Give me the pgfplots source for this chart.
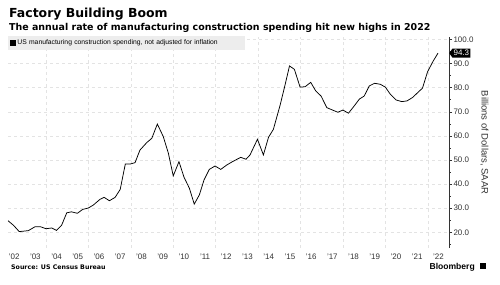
\documentclass[border=0pt]{standalone}
\usepackage{pgfplots}
\pgfplotsset{compat=1.18}
\usetikzlibrary{shapes.symbols}
\usepackage{fontspec}
\setmainfont{Liberation Sans}
\newfontfamily\headfont{DejaVu Sans}
\definecolor{gridc}{HTML}{E3E3E3}
\definecolor{tickc}{HTML}{333333}
\begin{document}
\begin{tikzpicture}[x=1bp,y=1bp]
\useasboundingbox (0,0) rectangle (500,284);
\node[anchor=base west,inner sep=0,font=\headfont\bfseries\fontsize{12.5}{14}\selectfont] at (9,267) {Factory Building Boom};
\node[anchor=base west,inner sep=0,font=\headfont\bfseries\fontsize{9.5}{11}\selectfont] at (9,253.5) {The annual rate of manufacturing construction spending hit new highs in 2022};
\node[anchor=base west,inner sep=0,font=\headfont\bfseries\fontsize{6.3}{8}\selectfont] at (11,15) {Source: US Census Bureau};
\node[anchor=base east,inner sep=0,font=\bfseries\fontsize{8.6}{10}\selectfont] at (475,15) {Bloomberg};
\fill[black] (479.5,15) rectangle (486,21.5);
\begin{axis}[
  at={(8bp,36bp)}, anchor=south west,
  scale only axis, width=441bp, height=211bp,
  xmin=2002.21, xmax=2023.0,
  ymin=13.5, ymax=101,
  axis y line*=right,
  axis x line*=bottom,
  x axis line style={draw=none},
  y axis line style={draw=tickc, line width=0.5pt},
  xtick={2002.5,2003.5,...,2022.5},
  xticklabels={'02,'03,'04,'05,'06,'07,'08,'09,'10,'11,'12,'13,'14,'15,'16,'17,'18,'19,'20,'21,'22},
  minor xtick={2004,2006,...,2022},
  xminorgrids=true,
  major x tick style={draw=none},
  minor x tick style={draw=none},
  xticklabel style={font=\fontsize{8}{9}\selectfont, text=tickc, yshift=1bp},
  ytick={20,30,...,100},
  minor ytick={15,25,...,95},
  ymajorgrids=true,
  grid style={gridc, dashed, line width=0.4pt},
  minor grid style={gridc, dashed, line width=0.4pt},
  major tick length=3bp, minor tick length=1.5bp,
  y tick style={tickc, line width=0.4pt},
  tick align=outside,
  yticklabel style={font=\fontsize{8}{9}\selectfont, text=tickc, xshift=-2bp},
  /pgf/number format/assume math mode=true,
  yticklabel={\pgfmathprintnumber[fixed,fixed zerofill,precision=1]{\tick}},
  ylabel={Billions of Dollars, SAAR},
  ylabel style={font=\fontsize{9.5}{11}\selectfont, text=tickc, rotate=180},
  legend style={at={(0,1)}, anchor=north west, fill=black!7, draw=none,
    font=\fontsize{6.8}{8}\selectfont, inner sep=1.5bp, row sep=0bp,
    text width=224bp, yshift=1bp},
  legend cell align=left,
  legend image code/.code={\fill[black] (0bp,-2.6bp) rectangle (5bp,2.6bp);},
  clip=false,
]
\addplot[black, line width=0.75pt] table {
2002.21 24.8
2002.46 23.0
2002.74 20.3
2003.17 20.7
2003.48 22.3
2003.75 22.3
2004.00 21.5
2004.27 21.8
2004.50 20.8
2004.74 23.0
2004.98 28.1
2005.20 28.5
2005.48 27.9
2005.73 29.5
2006.00 30.1
2006.23 31.3
2006.55 33.7
2006.74 34.5
2006.99 33.1
2007.26 34.5
2007.50 37.8
2007.74 48.3
2007.96 48.3
2008.20 48.9
2008.43 54.1
2008.75 57.2
2008.99 59.0
2009.25 64.9
2009.53 59.7
2009.77 52.8
2010.00 43.4
2010.27 49.3
2010.51 42.8
2010.76 38.3
2010.99 31.7
2011.23 35.5
2011.45 41.7
2011.70 46.1
2011.97 47.5
2012.24 46.1
2012.52 47.9
2012.79 49.3
2013.18 51.1
2013.43 50.3
2013.62 52.1
2013.97 58.6
2014.25 52.1
2014.49 59.4
2014.72 62.7
2015.04 72.8
2015.27 81.1
2015.48 89.0
2015.71 87.6
2015.98 80.2
2016.22 80.4
2016.48 82.2
2016.72 78.6
2016.97 76.5
2017.24 71.7
2017.51 70.7
2017.76 69.8
2018.00 70.7
2018.26 69.4
2018.53 72.4
2018.78 75.3
2019.00 76.5
2019.24 80.7
2019.49 81.8
2019.76 81.4
2020.00 80.2
2020.23 77.3
2020.50 74.9
2020.78 74.2
2021.02 74.5
2021.28 75.9
2021.52 77.9
2021.75 79.8
2021.99 86.6
2022.24 90.8
2022.48 94.3
};
\addlegendentry{US manufacturing construction spending, not adjusted for inflation}
\node[signal, signal to=west, signal pointer angle=110, fill=black, text=white, inner sep=1.2bp, anchor=west,
  font=\fontsize{8}{9}\selectfont, minimum height=9bp] at (axis cs:2023.0,94.3) {94.3};
\end{axis}
\end{tikzpicture}
\end{document}
